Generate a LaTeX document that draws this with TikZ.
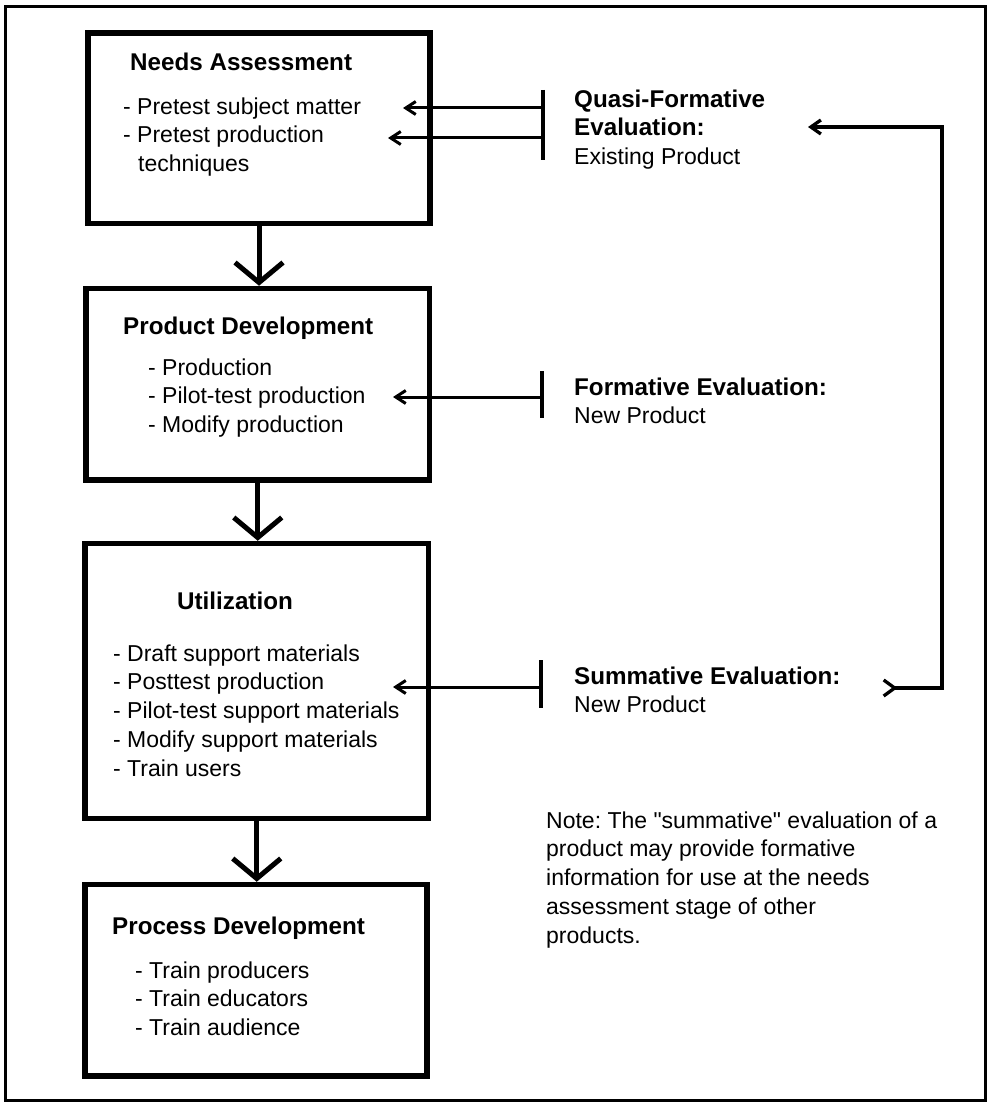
\documentclass[tikz,border=0pt]{standalone}
\usepackage{fontspec}
\setmainfont{Liberation Sans}
\usetikzlibrary{arrows.meta}
\frenchspacing
\newcommand{\boldtx}[1]{{\fontsize{24.2}{28.7}\selectfont\bfseries #1}}
\newcommand{\strq}{\XeTeXglyph\XeTeXglyphindex "quotedbl"\relax}
\begin{document}
\begin{tikzpicture}[x=1pt,y=-1pt,
  stagebox/.style={draw, line width=5.5pt, inner sep=0pt},
  ttl/.style={font=\fontsize{24.2}{28.7}\selectfont\bfseries, inner sep=0pt, anchor=west, text height=17.4pt, text depth=0pt},
  itm/.style={font=\fontsize{23}{28.7}\selectfont\frenchspacing, inner sep=0pt, anchor=north west, align=left},
  vconn/.style={line width=5pt, -{Straight Barb[length=20pt,width=48pt]}},
  hconn/.style={line width=3pt, -{Straight Barb[length=10pt,width=13pt]}},
  evbar/.style={line width=3.5pt},
  fbline/.style={line width=3.3pt}
]
\useasboundingbox (0,0) rectangle (987,1102);
\draw[line width=3pt] (5.5,7) rectangle (985.3,1100);

% stage boxes
\node[stagebox, minimum width=342pt, minimum height=190.5pt] (na) at (259,128.25) {};
\node[stagebox, minimum width=343.5pt, minimum height=191.5pt] (pd) at (257.75,384.25) {};
\node[stagebox, minimum width=343.5pt, minimum height=275pt] (ut) at (256.75,681) {};
\node[stagebox, minimum width=342pt, minimum height=191.5pt] (pr) at (256,980.25) {};

% box texts
\node[ttl] (naT) at (130,62) {Needs Assessment};
\node[itm] (naI) at (123,97.4) {- Pretest subject matter\\- Pretest production\\\hspace*{15pt}techniques};
\node[ttl] (pdT) at (123,326) {Product Development};
\node[itm] (pdI) at (148,358.4) {- Production\\- Pilot-test production\\- Modify production};
\node[ttl] (utT) at (177,601) {Utilization};
\node[itm] (utI) at (113,644.4) {- Draft support materials\\- Posttest production\\- Pilot-test support materials\\- Modify support materials\\- Train users};
\node[ttl] (prT) at (112,926) {Process Development};
\node[itm] (prI) at (135,961.4) {- Train producers\\- Train educators\\- Train audience};

% vertical connectors
\draw[vconn] (na.south) -- (na.south |- pd.north);
\draw[vconn] (pd.south) -- (pd.south |- ut.north);
\draw[vconn] (ut.south) -- (ut.south |- pr.north);

% evaluation texts
\node[itm] (qf) at (574,89.4) {\boldtx{Quasi-Formative}\\\boldtx{Evaluation:}\\Existing Product};
\node[itm] (fe) at (574,377.4) {\boldtx{Formative Evaluation:}\\New Product};
\node[itm] (se) at (574,666.4) {\boldtx{Summative Evaluation:}\\New Product};
\node[itm] (nt) at (546,811.4) {Note: The \strq summative\strq{} evaluation of a\\product may provide formative\\information for use at the needs\\assessment stage of other\\products.};

% bars
\coordinate (qbT) at (543,90);
\coordinate (qbB) at (543,160);
\coordinate (fbT) at (542,371);
\coordinate (fbB) at (542,418);
\coordinate (sbT) at (541,660);
\coordinate (sbB) at (541,708);
\draw[evbar] (qbT) -- (qbB);
\draw[evbar] (fbT) -- (fbB);
\draw[evbar] (sbT) -- (sbB);

% horizontal arrows
\coordinate (qa1) at (543,108);
\coordinate (qt1) at (403,108);
\coordinate (qa2) at (543,138);
\coordinate (qt2) at (388,138);
\coordinate (fa) at (542,397);
\coordinate (ft) at (393,397);
\coordinate (sa) at (541,687);
\coordinate (st) at (393,687);
\draw[hconn] (qa1) -- (qt1);
\draw[hconn] (qa2) -- (qt2);
\draw[hconn] (fa) -- (ft);
\draw[hconn] (sa) -- (st);

% feedback loop
\coordinate (fbS) at (882,688);
\coordinate (fbC1) at (942,688);
\coordinate (fbC2) at (942,127);
\coordinate (fbE) at (808,127);
\draw[fbline, {Straight Barb[reversed,length=11pt,width=16pt]}-{Straight Barb[length=10pt,width=14pt]}] (fbS) -- (fbC1) -- (fbC2) -- (fbE);
\end{tikzpicture}
\end{document}
